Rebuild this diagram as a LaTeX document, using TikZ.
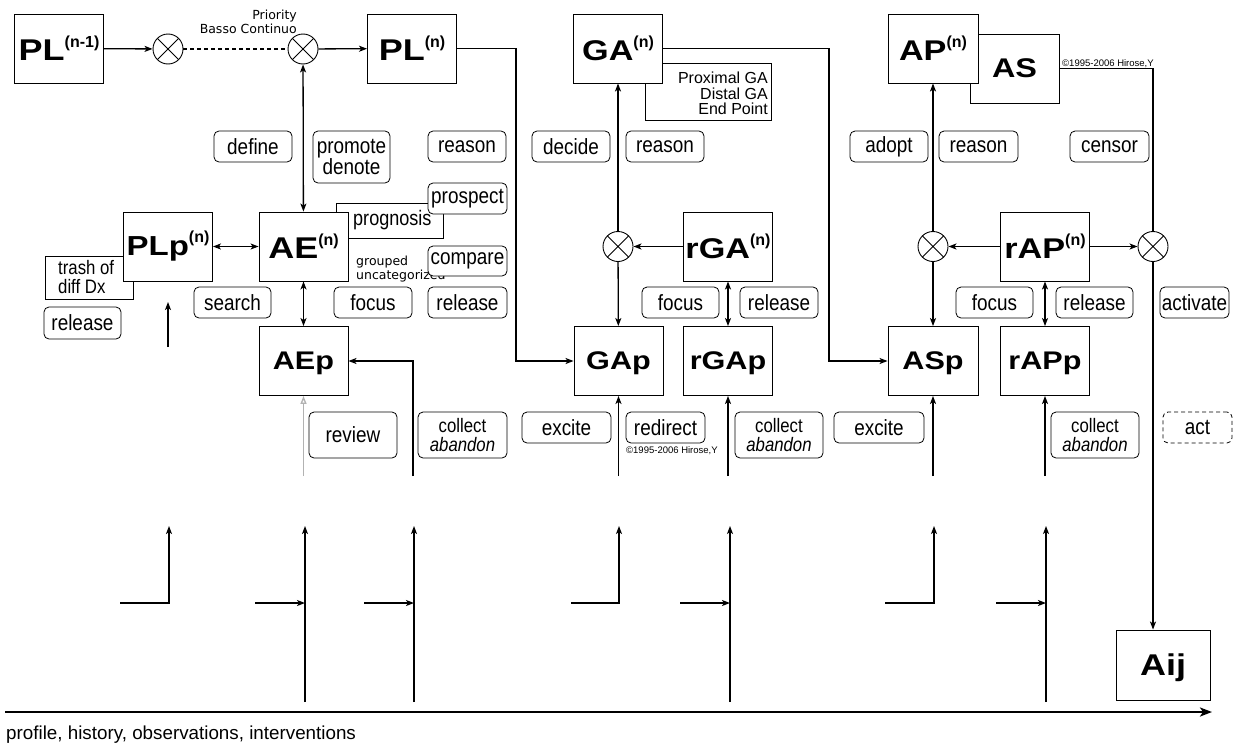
\documentclass[tikz,border=0pt]{standalone}
\usepackage{fontspec}
\setmainfont{Liberation Sans}
\newfontfamily\bxf[FakeStretch=1.2]{Liberation Sans}
\newfontfamily\lblf[FakeStretch=0.86]{Liberation Sans}
\newfontfamily\supf{Liberation Sans}
\newfontfamily\comicf{DejaVu Sans}
\usetikzlibrary{arrows.meta}
\newcommand\sps[2][16]{\raisebox{13pt}{\supf\bfseries\fontsize{#1}{#1}\selectfont(#2)}}
\begin{document}
\begin{tikzpicture}[x=1pt,y=-1pt,
  bx/.style={draw, line width=0.9pt, fill=white, minimum width=89pt, minimum height=69pt, inner sep=0pt, font=\bxf\bfseries\fontsize{28.5}{28.5}\selectfont},
  pbx/.style={bx, font=\bxf\bfseries\fontsize{25.5}{25.5}\selectfont, text depth=0pt},
  bgbx/.style={draw, line width=0.9pt, fill=white, inner sep=0pt},
  lbl/.style={draw, rounded corners=5pt, line width=0.8pt, fill=white, minimum height=31pt, inner sep=0pt, font=\lblf\fontsize{22}{17}\selectfont, align=center},
  lbl2/.style={lbl, minimum height=46pt, font=\lblf\fontsize{19.5}{19}\selectfont},
  mult/.style={circle, draw, line width=0.9pt, fill=white, minimum size=30pt, inner sep=0pt,
     path picture={\draw[line width=0.9pt] (path picture bounding box.north west) -- (path picture bounding box.south east)
        (path picture bounding box.north east) -- (path picture bounding box.south west);}},
  con/.style={line width=1.3pt, -{Stealth[length=8pt,width=6pt,inset=2pt]}},
  dcon/.style={line width=1.3pt, {Stealth[length=8pt,width=6pt,inset=2pt]}-{Stealth[length=8pt,width=6pt,inset=2pt]}},
  plain/.style={line width=1.3pt},
  comic/.style={font=\comicf\fontsize{12.5}{13.5}\selectfont, inner sep=0pt},
  tiny/.style={font=\supf\fontsize{9.5}{10}\selectfont, inner sep=0pt}
]
\useasboundingbox (0,0) rectangle (1241,744);

% background boxes
\node[bgbx, minimum width=126pt, minimum height=57pt] (prox) at (708,91.5) {};
\node[bgbx, minimum width=89pt, minimum height=69pt, font=\bxf\bfseries\fontsize{27}{27}\selectfont] (AS) at (1014.5,68.5) {AS};
\node[bgbx, minimum width=88pt, minimum height=43pt] (trash) at (89,277.5) {};
\node[bgbx, minimum width=107pt, minimum height=35pt] (progn) at (389.5,220.5) {};

\node[anchor=north east, align=right, inner sep=0pt, font=\supf\fontsize{16}{15.5}\selectfont] (proxt) at (768,72) {Proximal GA\\Distal GA\\End Point};
\node[anchor=north west, align=left, inner sep=0pt, font=\lblf\fontsize{19.5}{19}\selectfont] (trasht) at (58,260) {trash of\\diff Dx};
\node[anchor=base west, inner sep=0pt, font=\lblf\fontsize{21}{16}\selectfont] (prognt) at (353,225) {prognosis};

% main boxes
\node[bx, font=\bxf\bfseries\fontsize{30}{30}\selectfont] (PLa) at (59,48.5) {PL\sps{n-1}};
\node[bx, font=\bxf\bfseries\fontsize{30}{30}\selectfont] (PLn) at (412,48.5) {PL\sps{n}};
\node[bx] (GAn) at (618,48.5) {GA\sps{n}};
\node[bx, minimum width=90pt] (APn) at (933,48.5) {AP\sps{n}};
\node[bx, font=\bxf\bfseries\fontsize{27.5}{27.5}\selectfont] (PLp) at (168,246.5) {PLp\sps{n}};
\node[bx, font=\bxf\bfseries\fontsize{30}{30}\selectfont] (AEn) at (303.5,246.5) {AE\sps{n}};
\node[bx] (rGAn) at (728,246.5) {rGA\sps{n}};
\node[bx] (rAPn) at (1045,246.5) {rAP\sps{n}};
\node[pbx] (AEp) at (303.5,361) {AEp};
\node[pbx] (GAp) at (618.5,361) {GAp};
\node[pbx] (rGAp) at (728,361) {rGAp};
\node[pbx, minimum width=90pt] (ASp) at (933,361) {ASp};
\node[pbx] (rAPp) at (1045,361) {rAPp};
\node[bx, minimum width=94pt, minimum height=70pt, font=\bxf\bfseries\fontsize{30}{30}\selectfont, text depth=0pt] (Aij) at (1163,665) {Aij};

% multipliers
\node[mult] (c1) at (168,49) {};
\node[mult] (c2) at (303,49) {};
\node[mult] (c3) at (618,246.5) {};
\node[mult] (c4) at (933,246.5) {};
\node[mult] (c5) at (1153,246.5) {};

% small texts
\node[comic, align=right, anchor=north east] (prio) at (297,10) {Priority\\Basso Continuo};
\node[comic, align=left, anchor=north west] (grp) at (356,256) {grouped\\uncategorized};
\node[tiny, anchor=base west] (cp1) at (1062,66) {©1995-2006 Hirose,Y};
\node[tiny, anchor=base west] (cp2) at (626,453) {©1995-2006 Hirose,Y};

% labels
\node[lbl, minimum width=78pt] (define) at (253,146.5) {define};
\node[lbl, minimum width=77pt, minimum height=52pt, font=\lblf\fontsize{22}{19}\selectfont] (promote) at (351.5,157) {promote\\denote};
\node[lbl, minimum width=78pt] (reason1) at (467,146.5) {reason};
\node[lbl, minimum width=78pt] (decide) at (571,146.5) {decide};
\node[lbl, minimum width=78pt] (reason2) at (665,146.5) {reason};
\node[lbl, minimum width=78pt] (adopt) at (889,146.5) {adopt};
\node[lbl, minimum width=79pt] (reason3) at (978.5,146.5) {reason};
\node[lbl, minimum width=79pt] (censor) at (1109.5,146.5) {censor};
\node[lbl, minimum width=79pt] (prospect) at (467.5,198.5) {prospect};
\node[lbl, minimum width=79pt, minimum height=30pt] (compare) at (467.5,261) {compare};
\node[lbl, minimum width=77pt] (search) at (232.5,302.5) {search};
\node[lbl, minimum width=78pt] (focus1) at (373,302.5) {focus};
\node[lbl, minimum width=79pt] (release1) at (467.5,302.5) {release};
\node[lbl, minimum width=77pt, minimum height=32pt] (release0) at (82.5,323) {release};
\node[lbl, minimum width=77pt] (focus2) at (680.5,302.5) {focus};
\node[lbl, minimum width=78pt] (release2) at (779,302.5) {release};
\node[lbl, minimum width=77pt] (focus3) at (994.5,302.5) {focus};
\node[lbl, minimum width=77pt] (release3) at (1094.5,302.5) {release};
\node[lbl, minimum width=69pt] (activate) at (1194.5,302.5) {activate};
\node[lbl, minimum width=88pt, minimum height=46pt] (review) at (353,435) {review};
\node[lbl2, minimum width=89pt] (collect1) at (462.5,435) {collect\\\itshape abandon};
\node[lbl, minimum width=89pt] (excite1) at (566.5,427.5) {excite};
\node[lbl, minimum width=79pt] (redirect) at (665.5,427.5) {redirect};
\node[lbl2, minimum width=88pt] (collect2) at (779,435) {collect\\\itshape abandon};
\node[lbl, minimum width=90pt] (excite2) at (879,427.5) {excite};
\node[lbl2, minimum width=88pt] (collect3) at (1095,435) {collect\\\itshape abandon};
\node[lbl, minimum width=69pt, dashed, dash pattern=on 4pt off 3pt] (act) at (1197.5,427.5) {act};

% coordinates
\coordinate (k1) at (516,48.5);
\coordinate (k2) at (516,361);
\coordinate (k3) at (829,48.5);
\coordinate (k4) at (829,361);
\coordinate (k5) at (1153,68.5);
\coordinate (u1a) at (168,347);
\coordinate (u1b) at (168,302);
\coordinate (u2) at (303.5,476);
\coordinate (u3) at (413,476);
\coordinate (u3m) at (413,361);
\coordinate (u4) at (618.5,476);
\coordinate (u5) at (728,476);
\coordinate (u6) at (933,476);
\coordinate (u7) at (1045,476);

% top connectors
\draw[con] (PLa) -- (c1);
\draw[line width=1.1pt, dash pattern=on 4pt off 3pt] (c1) -- (c2);
\draw[con] (c2) -- (PLn);
\draw[dcon] (c2) -- (AEn);
\draw[con] (PLn.east) -- (k1) -- (k2) -- (GAp);
\draw[con] (GAn.east) -- (k3) -- (k4) -- (ASp);
\draw[plain] (AS.east |- k5) -- (k5) -- (c5);
\draw[con] (c5) -- (c5 |- Aij.north);

% middle connectors
\draw[line width=1pt, {Stealth[length=8pt,width=6pt,inset=2pt]}-{Stealth[length=8pt,width=6pt,inset=2pt]}] (PLp) -- (AEn);
\draw[dcon] (AEn) -- (AEp);
\draw[con] (u3) -- (u3m) -- (AEp);
\draw[line width=1.3pt, gray!60, -{Triangle[open,length=8pt,width=6pt]}] (u2) -- (AEp);
\draw[con] (u1a) -- (u1b);
\draw[con] (c3) -- (GAn);
\draw[con] (c3) -- (GAp);
\draw[con] (rGAn) -- (c3);
\draw[dcon] (rGAn) -- (rGAp);
\draw[con] (u4) -- (GAp);
\draw[con] (u5) -- (rGAp);
\draw[con] (c4) -- (APn);
\draw[con] (c4) -- (ASp);
\draw[con] (rAPn) -- (c4);
\draw[con] (rAPn) -- (c5);
\draw[dcon] (rAPn) -- (rAPp);
\draw[con] (u6) -- (ASp);
\draw[con] (u7) -- (rAPp);

% bottom arrows
\coordinate (b1s) at (120,603); \coordinate (b1c) at (169,603); \coordinate (b1t) at (169,526);
\coordinate (b2s) at (305,702); \coordinate (b2t) at (305,526); \coordinate (b2h) at (255,603); \coordinate (b2m) at (305,603);
\coordinate (b3s) at (414,702); \coordinate (b3t) at (414,526); \coordinate (b3h) at (364,603); \coordinate (b3m) at (414,603);
\coordinate (b4s) at (571,603); \coordinate (b4c) at (619,603); \coordinate (b4t) at (619,526);
\coordinate (b5s) at (730,702); \coordinate (b5t) at (730,526); \coordinate (b5h) at (680,603); \coordinate (b5m) at (730,603);
\coordinate (b6s) at (885,603); \coordinate (b6c) at (934,603); \coordinate (b6t) at (934,526);
\coordinate (b7s) at (1046,702); \coordinate (b7t) at (1046,526); \coordinate (b7h) at (996,603); \coordinate (b7m) at (1046,603);

\draw[con] (b1s) -- (b1c) -- (b1t);
\draw[con] (b2s) -- (b2t); \draw[con] (b2h) -- (b2m);
\draw[con] (b3s) -- (b3t); \draw[con] (b3h) -- (b3m);
\draw[con] (b4s) -- (b4c) -- (b4t);
\draw[con] (b5s) -- (b5t); \draw[con] (b5h) -- (b5m);
\draw[con] (b6s) -- (b6c) -- (b6t);
\draw[con] (b7s) -- (b7t); \draw[con] (b7h) -- (b7m);

% axis
\coordinate (ax1) at (5,712);
\coordinate (ax2) at (1212,712);
\draw[line width=2.8pt, -{Stealth[length=12pt,width=9pt,inset=3pt]}] (ax1) -- (ax2);
\node[anchor=base west, inner sep=0pt, font=\supf\fontsize{18.8}{18.8}\selectfont] (axlbl) at (6,739) {profile, history, observations, interventions};
\end{tikzpicture}
\end{document}
